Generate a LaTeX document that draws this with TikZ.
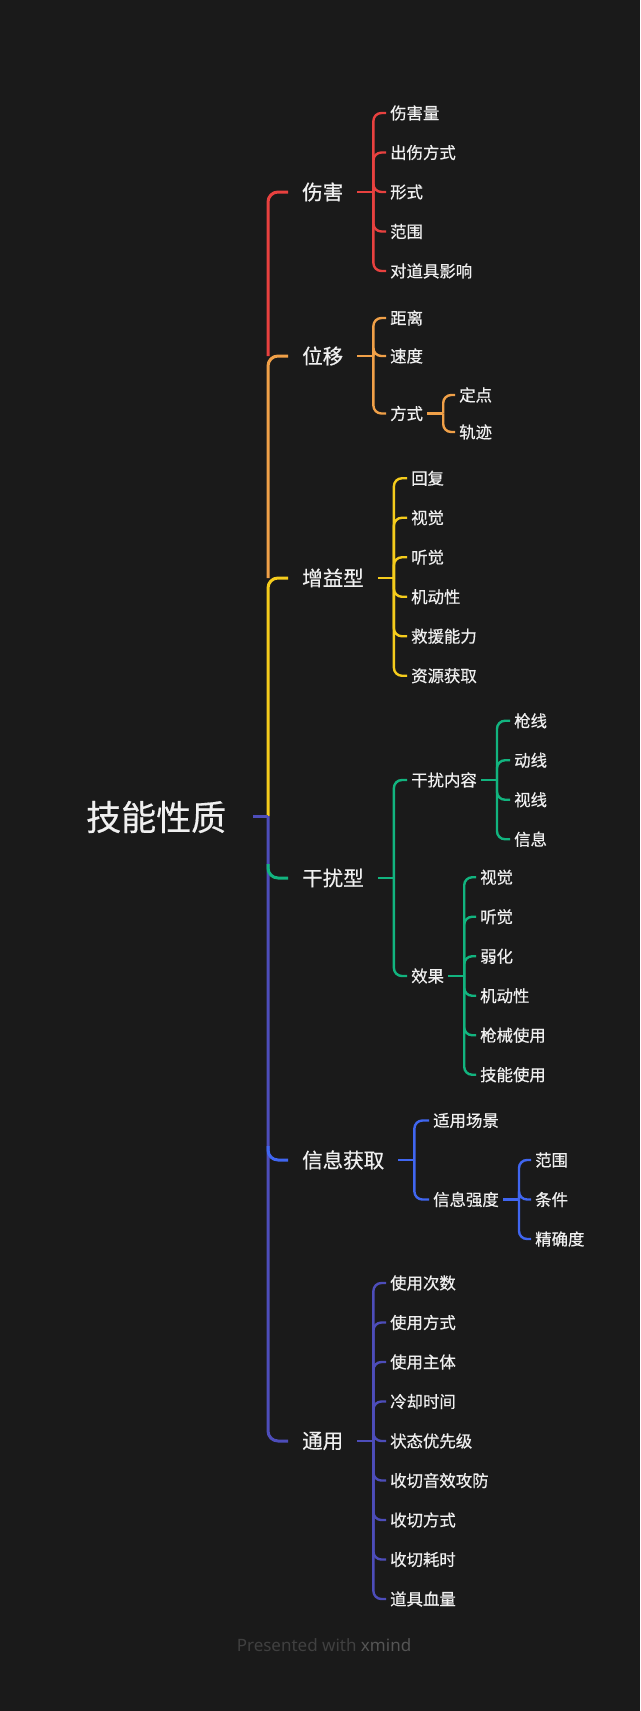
\documentclass[tikz,border=0pt]{standalone}
\usepackage{fontspec}
\usepackage{tikz}
\usetikzlibrary{positioning, calc}
\newfontfamily\cjk[FakeBold=0.5]{Noto Sans CJK SC}
\newfontfamily\footfont{Noto Sans}
\definecolor{bg}{HTML}{1A1A1A}
\definecolor{txt}{HTML}{F0F0F0}
\definecolor{cRed}{HTML}{E8413F}
\definecolor{cOrange}{HTML}{F0A048}
\definecolor{cYellow}{HTML}{F5CC1C}
\definecolor{cGreen}{HTML}{12B47F}
\definecolor{cBlue}{HTML}{4066F0}
\definecolor{cIndigo}{HTML}{4D4DBA}
\definecolor{footgray}{HTML}{404040}
\definecolor{footbold}{HTML}{555555}
\tikzset{
    rootnode/.style={anchor=west, inner xsep=27pt, inner ysep=0pt, text=txt, font=\cjk\fontsize{35}{40}\selectfont},
    branch/.style={anchor=west, inner xsep=14pt, inner ysep=0pt, text=txt, font=\cjk\fontsize{20.5}{24}\selectfont},
    leaf/.style={anchor=west, inner xsep=4pt, inner ysep=0pt, text=txt, font=\cjk\fontsize{16.4}{20}\selectfont},
    trunk/.style={line width=3pt, rounded corners=10pt},
    link/.style={line width=2.4pt, rounded corners=8pt}
}

\begin{document}
\begin{tikzpicture}[x=1pt,y=-1pt]
    \fill[bg] (0,0) rectangle (640,1711);
    \useasboundingbox (0,0) rectangle (640,1711);

    % root and main branches
    \node[rootnode] (root) at (59,817) {技能性质};
    \coordinate (tk) at (268,816);
    \node[branch] (dmg) at (288,192) {伤害};
    \node[branch] (move) at (288,356) {位移};
    \node[branch] (buff) at (288,578) {增益型};
    \node[branch] (jam) at (288,878) {干扰型};
    \node[branch] (info) at (288,1160) {信息获取};
    \node[branch] (gen) at (288,1441) {通用};

    % trunk
    \draw[trunk, cRed] (dmg.west) -| (move.west -| tk);
    \draw[trunk, cOrange] (move.west) -| (buff.west -| tk);
    \draw[trunk, cYellow] (buff.west) -| (tk);
    \draw[trunk, cIndigo, rounded corners=0pt] (root.east |- tk) -- (tk);
    \draw[trunk, cIndigo] (tk) |- (gen.west);
    \draw[trunk, cGreen] ($(jam.west -| tk)+(0,-14)$) |- (jam.west);
    \draw[trunk, cBlue] ($(info.west -| tk)+(0,-14)$) |- (info.west);

    % 伤害
    \foreach \t [count=\i] in {伤害量,出伤方式,形式,范围,对道具影响}
        \node[leaf] (dmg\i) at (386,{113+39.5*(\i-1)}) {\t};
    \coordinate (dmgJ) at ($(dmg.east)+(16,0)$);
    \draw[link, cRed, rounded corners=0pt] (dmg.east) -- (dmgJ);
    \foreach \i in {1,...,5}
        \draw[link, cRed] (dmgJ) |- (dmg\i.west);

    % 位移
    \node[leaf] (move1) at (386,318) {距离};
    \node[leaf] (move2) at (386,356) {速度};
    \node[leaf] (move3) at (386,413.5) {方式};
    \node[leaf] (way1) at (455,395) {定点};
    \node[leaf] (way2) at (455,432) {轨迹};
    \coordinate (moveJ) at ($(move.east)+(16,0)$);
    \draw[link, cOrange, rounded corners=0pt] (move.east) -- (moveJ);
    \foreach \i in {1,2,3}
        \draw[link, cOrange] (moveJ) |- (move\i.west);
    \coordinate (wayJ) at ($(move3.east)+(16,0)$);
    \draw[link, cOrange, rounded corners=0pt] (move3.east) -- (wayJ);
    \foreach \i in {1,2}
        \draw[link, cOrange] (wayJ) |- (way\i.west);

    % 增益型
    \foreach \t [count=\i] in {回复,视觉,听觉,机动性,救援能力,资源获取}
        \node[leaf] (buff\i) at (407,{478.25+39.5*(\i-1)}) {\t};
    \coordinate (buffJ) at ($(buff.east)+(16,0)$);
    \draw[link, cYellow, rounded corners=0pt] (buff.east) -- (buffJ);
    \foreach \i in {1,...,6}
        \draw[link, cYellow] (buffJ) |- (buff\i.west);

    % 干扰型
    \node[leaf] (jam1) at (407,780) {干扰内容};
    \node[leaf] (jam2) at (407,976) {效果};
    \coordinate (jamJ) at ($(jam.east)+(16,0)$);
    \draw[link, cGreen, rounded corners=0pt] (jam.east) -- (jamJ);
    \foreach \i in {1,2}
        \draw[link, cGreen] (jamJ) |- (jam\i.west);
    \foreach \t [count=\i] in {枪线,动线,视线,信息}
        \node[leaf] (line\i) at (510,{720.75+39.5*(\i-1)}) {\t};
    \coordinate (lineJ) at ($(jam1.east)+(16,0)$);
    \draw[link, cGreen, rounded corners=0pt] (jam1.east) -- (lineJ);
    \foreach \i in {1,...,4}
        \draw[link, cGreen] (lineJ) |- (line\i.west);
    \foreach \t [count=\i] in {视觉,听觉,弱化,机动性,枪械使用,技能使用}
        \node[leaf] (eff\i) at (476,{877.25+39.5*(\i-1)}) {\t};
    \coordinate (effJ) at ($(jam2.east)+(16,0)$);
    \draw[link, cGreen, rounded corners=0pt] (jam2.east) -- (effJ);
    \foreach \i in {1,...,6}
        \draw[link, cGreen] (effJ) |- (eff\i.west);

    % 信息获取
    \node[leaf] (info1) at (429,1120.5) {适用场景};
    \node[leaf] (info2) at (429,1199.5) {信息强度};
    \coordinate (infoJ) at ($(info.east)+(16,0)$);
    \draw[link, cBlue, rounded corners=0pt] (info.east) -- (infoJ);
    \foreach \i in {1,2}
        \draw[link, cBlue] (infoJ) |- (info\i.west);
    \foreach \t [count=\i] in {范围,条件,精确度}
        \node[leaf] (lvl\i) at (531,{1160+39.5*(\i-1)}) {\t};
    \coordinate (lvlJ) at ($(info2.east)+(16,0)$);
    \draw[link, cBlue, rounded corners=0pt] (info2.east) -- (lvlJ);
    \foreach \i in {1,2,3}
        \draw[link, cBlue] (lvlJ) |- (lvl\i.west);

    % 通用
    \foreach \t [count=\i] in {使用次数,使用方式,使用主体,冷却时间,状态优先级,收切音效攻防,收切方式,收切耗时,道具血量}
        \node[leaf] (gen\i) at (386,{1283+39.5*(\i-1)}) {\t};
    \coordinate (genJ) at ($(gen.east)+(16,0)$);
    \draw[link, cIndigo, rounded corners=0pt] (gen.east) -- (genJ);
    \foreach \i in {1,...,9}
        \draw[link, cIndigo] (genJ) |- (gen\i.west);

    \node[font=\footfont\fontsize{17}{20}\selectfont, text=footgray] (credit) at (324,1645) {Presented with \textcolor{footbold}{\bfseries xmind}};
\end{tikzpicture}
\end{document}
